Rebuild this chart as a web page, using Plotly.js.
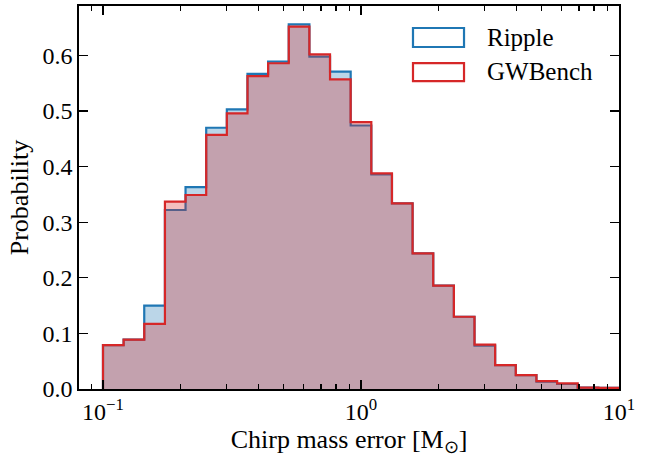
<!DOCTYPE html>
<html>
<head>
<meta charset="utf-8">
<script src="https://cdn.plot.ly/plotly-3.0.1.min.js"></script>
<style>
  html, body { margin: 0; padding: 0; background: #fff; }
  #chart { width: 654px; height: 459px; }
</style>
</head>
<body>
<div id="chart"></div>
<script>
// Log-spaced bin edges (0.1 to 10, 25 bins)
const binEdges = [0.1, 0.1202, 0.1445, 0.1738, 0.2089, 0.2512, 0.3020, 0.3631, 0.4365, 0.5248,
  0.6310, 0.7586, 0.9120, 1.0965, 1.3183, 1.5849, 1.9055, 2.2909, 2.7542, 3.3113,
  3.9811, 4.7863, 5.7544, 6.9183, 8.3176, 10.0];

// Probability per bin
const rippleProb = [0.079, 0.089, 0.150, 0.322, 0.363, 0.470, 0.503, 0.567, 0.589, 0.656,
  0.598, 0.571, 0.474, 0.386, 0.334, 0.244, 0.186, 0.130, 0.078, 0.043,
  0.025, 0.013, 0.009, 0.0024, 0.002];
const gwbenchProb = [0.079, 0.089, 0.117, 0.337, 0.349, 0.457, 0.496, 0.563, 0.586, 0.652,
  0.602, 0.557, 0.480, 0.388, 0.334, 0.244, 0.186, 0.130, 0.080, 0.043,
  0.025, 0.014, 0.010, 0.0024, 0.002];

const seriesNames = ['Ripple', 'GWBench'];
const xTickVals = [0.1, 1, 10];
const xTickText = ['10<sup>\u22121</sup>', '10<sup>0</sup>', '10<sup>1</sup>'];
const xMinorVals = [0.09, 0.2, 0.3, 0.4, 0.5, 0.6, 0.7, 0.8, 0.9, 2, 3, 4, 5, 6, 7, 8, 9];
const yTickVals = [0, 0.1, 0.2, 0.3, 0.4, 0.5, 0.6];

function stepXY(edges, vals) {
  const x = [edges[0]], y = [0];
  for (let i = 0; i < vals.length; i++) { x.push(edges[i]); y.push(vals[i]); }
  x.push(edges[edges.length - 1]); y.push(vals[vals.length - 1]);
  x.push(edges[edges.length - 1]); y.push(0);
  return {x, y};
}

const blue = '#1f77b4', red = '#d62728';
const s1 = stepXY(binEdges, rippleProb);
const s2 = stepXY(binEdges, gwbenchProb);

const FONT = 'Liberation Serif, Times New Roman, serif';

const traces = [
  {type: 'scatter', mode: 'lines', x: s1.x, y: s1.y, name: seriesNames[0],
   line: {shape: 'hv', color: blue, width: 2.2}, fill: 'tozeroy',
   fillcolor: 'rgba(31,119,180,0.3)', showlegend: false, hoverinfo: 'skip'},
  {type: 'scatter', mode: 'lines', x: s2.x, y: s2.y, name: seriesNames[1],
   line: {shape: 'hv', color: red, width: 2.2}, fill: 'tozeroy',
   fillcolor: 'rgba(214,39,40,0.3)', showlegend: false, hoverinfo: 'skip'}
];

const axisCommon = {
  showgrid: false, zeroline: false, showline: true, linecolor: 'black', linewidth: 1.8,
  mirror: 'ticks', ticks: 'inside', tickcolor: 'black', tickwidth: 1.3, ticklen: 9,
  tickfont: {family: FONT, size: 24, color: 'black'}
};

const layout = {
  width: 654, height: 459,
  margin: {l: 79, r: 35, t: 6, b: 70},
  paper_bgcolor: 'white', plot_bgcolor: 'white',
  font: {family: FONT, color: 'black'},
  showlegend: false,
  xaxis: Object.assign({}, axisCommon, {
    type: 'log', range: [-1.093, 1.0],
    tickmode: 'array', tickvals: xTickVals, ticktext: xTickText,
    minor: {tickmode: 'array', tickvals: xMinorVals, ticks: 'inside', ticklen: 5,
            tickwidth: 1.1, tickcolor: 'black', showgrid: false},
    title: {text: 'Chirp mass error [M<sub>\u2299</sub>]', font: {family: FONT, size: 26}, standoff: 1}
  }),
  yaxis: Object.assign({}, axisCommon, {
    range: [0, 0.689], tickmode: 'array', tickvals: yTickVals, tickformat: '.1f',
    title: {text: 'Probability', font: {family: FONT, size: 26}, standoff: 6}
  }),
  shapes: [
    {type: 'rect', xref: 'paper', yref: 'paper', x0: 0.6185, x1: 0.713, y0: 0.893, y1: 0.9426,
     line: {color: blue, width: 2.2}, fillcolor: 'white'},
    {type: 'rect', xref: 'paper', yref: 'paper', x0: 0.6185, x1: 0.713, y0: 0.804, y1: 0.851,
     line: {color: red, width: 2.2}, fillcolor: 'white'}
  ],
  annotations: [
    {xref: 'paper', yref: 'paper', x: 0.752, y: 0.918, text: seriesNames[0], showarrow: false,
     xanchor: 'left', yanchor: 'middle', font: {family: FONT, size: 25, color: 'black'}},
    {xref: 'paper', yref: 'paper', x: 0.752, y: 0.828, text: seriesNames[1], showarrow: false,
     xanchor: 'left', yanchor: 'middle', font: {family: FONT, size: 25, color: 'black'}}
  ]
};

Plotly.newPlot('chart', traces, layout, {staticPlot: true, displayModeBar: false});
</script>
</body>
</html>
